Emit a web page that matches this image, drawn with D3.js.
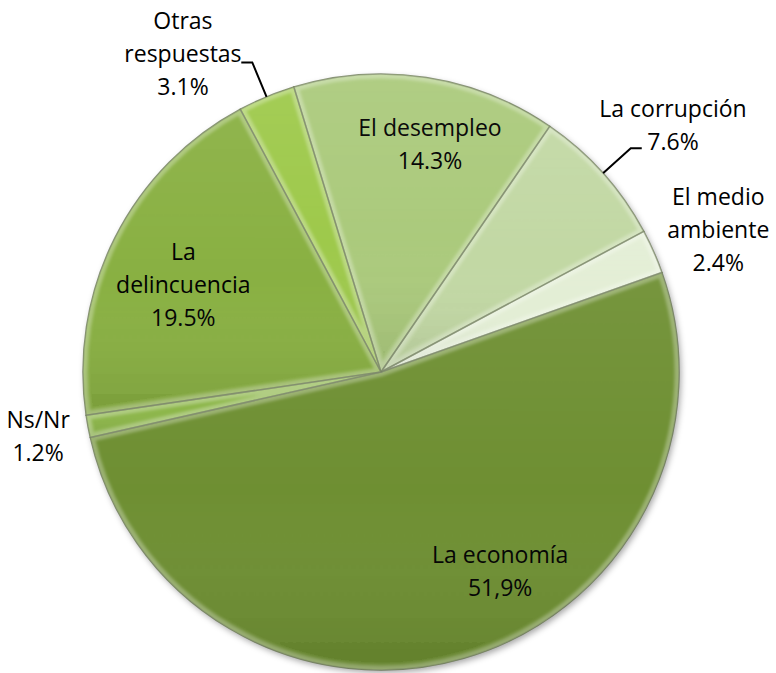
<!DOCTYPE html>
<html><head><meta charset="utf-8">
<script src="https://cdn.jsdelivr.net/npm/d3@7/dist/d3.min.js"></script>
<style>
html,body{margin:0;padding:0;background:#fff;}
svg{display:block;}
text{font-family:"Open Sans","Noto Sans",sans-serif;font-size:23px;fill:#000;}
</style></head><body>
<svg id="chart" width="776" height="673"></svg>
<script>
// ---- data ----
const categories = ["El desempleo","La corrupción","El medio ambiente","La economía","Ns/Nr","La delincuencia","Otras respuestas"];
const values = [14.3, 7.6, 2.4, 51.9, 1.2, 19.5, 3.1];
const valueLabels = ["14.3%","7.6%","2.4%","51,9%","1.2%","19.5%","3.1%"];
const labelLines = [["El desempleo"],["La corrupción"],["El medio","ambiente"],["La economía"],["Ns/Nr"],["La","delincuencia"],["Otras","respuestas"]];

// ---- style / layout ----
const colors = ["#abca7c","#c2d8a4","#e3eed5","#6e8f33","#8cb64a","#89b043","#9ec94b"];
const startDeg = -17;
const cx = 381, cy = 372, R = 298;
// label placement: [angle tweak (deg), radius]
const labelPlace = [[3.4,233],[1.7,382],[1.0,366],[-14.8,232],[-0.2,349],[-3.0,216],[-9.3,375]];
const leader = [false,true,false,false,false,false,true];

const svg = d3.select("#chart");
const defs = svg.append("defs");
const sh = defs.append("filter").attr("id","shadow").attr("x","-20%").attr("y","-20%").attr("width","140%").attr("height","140%");
sh.append("feDropShadow").attr("dx",2).attr("dy",3).attr("stdDeviation",3).attr("flood-color","#000").attr("flood-opacity",0.35);
const bl = defs.append("filter").attr("id","blur");
bl.append("feGaussianBlur").attr("stdDeviation",1.6);
const grad = defs.append("linearGradient").attr("id","shade").attr("x1",0).attr("y1",0).attr("x2",0).attr("y2",1);
grad.append("stop").attr("offset","0%").attr("stop-color","#fff").attr("stop-opacity",0.06);
grad.append("stop").attr("offset","55%").attr("stop-color","#fff").attr("stop-opacity",0);
grad.append("stop").attr("offset","100%").attr("stop-color","#000").attr("stop-opacity",0.1);

const rad = d => d*Math.PI/180;
const pie = d3.pie().sort(null).value(d=>d).startAngle(rad(startDeg)).endAngle(rad(startDeg)+2*Math.PI);
const arcs = pie(values);
const arc = d3.arc().innerRadius(0).outerRadius(R);

const g = svg.append("g").attr("transform",`translate(${cx},${cy})`);
const base = g.append("g").attr("filter","url(#shadow)");
base.selectAll("path.slice").data(arcs).join("path")
  .attr("class","slice").attr("d",arc).attr("fill",(d,i)=>colors[i]);

// bevel highlights
arcs.forEach((d,i)=>{
  defs.append("clipPath").attr("id","clip"+i).append("path").attr("d",arc(d)).attr("transform",`translate(${cx},${cy})`);
});
const bev = svg.append("g");
arcs.forEach((d,i)=>{
  const gg = bev.append("g").attr("clip-path",`url(#clip${i})`);
  gg.append("path").attr("d",arc(d)).attr("transform",`translate(${cx},${cy})`)
    .attr("fill","url(#shade)").attr("stroke","#ffffff").attr("stroke-opacity",0.3)
    .attr("stroke-width",9).attr("filter","url(#blur)");
});
g.append("g").selectAll("path").data(arcs).join("path")
  .attr("d",arc).attr("fill","none").attr("stroke","#4a5a30").attr("stroke-opacity",0.65).attr("stroke-width",1.5)
  .attr("stroke-linejoin","round");

// labels
const lh = 33;
arcs.forEach((d,i)=>{
  const mid = (d.startAngle+d.endAngle)/2;
  const a = mid + rad(labelPlace[i][0]);
  const r = labelPlace[i][1];
  const x = Math.sin(a)*r, y = -Math.cos(a)*r;
  const lines = labelLines[i].concat([valueLabels[i]]);
  const t = g.append("text").attr("text-anchor","middle");
  const y0 = y - (lines.length-1)*lh/2;
  lines.forEach((s,k)=>{
    t.append("tspan").attr("x",x).attr("y",y0+k*lh).attr("dy","0.35em").text(s);
  });
  if(leader[i]){
    const p0 = [Math.sin(mid)*R, -Math.cos(mid)*R];
    const p1 = [Math.sin(mid)*R*1.125, -Math.cos(mid)*R*1.125];
    const dir = Math.sin(mid) > 0 ? 1 : -1;
    const p2 = [p1[0] + dir*11, p1[1]];
    g.append("path").attr("d",d3.line()([p0,p1,p2])).attr("fill","none").attr("stroke","#000").attr("stroke-width",2);
  }
});
</script>
</body></html>
